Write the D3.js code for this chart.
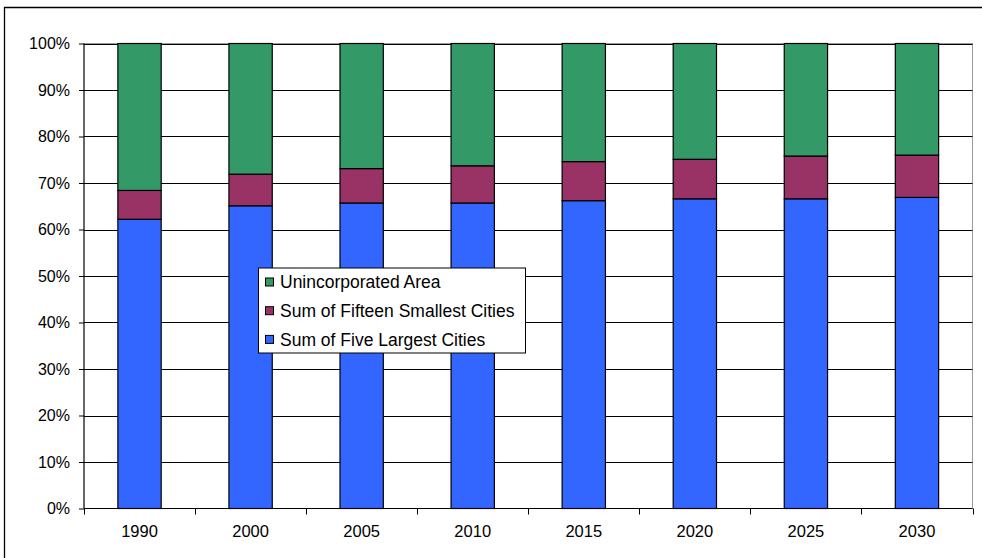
<!DOCTYPE html>
<html>
<head>
<meta charset="utf-8">
<script src="https://cdn.jsdelivr.net/npm/d3@7"></script>
<style>
  html, body { margin: 0; padding: 0; background: #fff; }
  svg { display: block; font-family: "Liberation Sans", Arial, sans-serif; }
</style>
</head>
<body>
<svg id="chart" width="982" height="558"></svg>
<script>
// Population share by year (percent of county total)
const years = ["1990", "2000", "2005", "2010", "2015", "2020", "2025", "2030"];
const fiveLargest = [62.2, 65.1, 65.7, 65.7, 66.2, 66.6, 66.6, 66.9];
const fifteenSmallest = [6.2, 6.8, 7.4, 8.0, 8.4, 8.5, 9.2, 9.1];
const unincorporated = [31.6, 28.1, 26.9, 26.3, 25.4, 24.9, 24.2, 24.0];
const yTicks = [0, 10, 20, 30, 40, 50, 60, 70, 80, 90, 100];

const seriesNames = ["Sum of Five Largest Cities", "Sum of Fifteen Smallest Cities", "Unincorporated Area"];
const seriesColors = ["#3366FF", "#993366", "#339966"];

const rows = years.map((y, i) => ({
  year: y,
  [seriesNames[0]]: fiveLargest[i],
  [seriesNames[1]]: fifteenSmallest[i],
  [seriesNames[2]]: unincorporated[i]
}));

const svg = d3.select("#chart");
const W = 982, H = 558;
const plot = { left: 84, right: 972.5, top: 43.5, bottom: 508.5 };

// Outer chart frame
svg.append("path")
  .attr("d", `M4.5,${H + 2} V7.5 H${W + 2}`)
  .attr("fill", "none").attr("stroke", "#000").attr("stroke-width", 1.3);

const x = d3.scaleBand().domain(years).range([plot.left, plot.right]).paddingInner(0.61).paddingOuter(0.305);
const y = d3.scaleLinear().domain([0, 100]).range([plot.bottom, plot.top]);

// Plot area border
svg.append("rect")
  .attr("x", plot.left).attr("y", plot.top)
  .attr("width", plot.right - plot.left).attr("height", plot.bottom - plot.top)
  .attr("fill", "#fff").attr("stroke", "#9a9a9a").attr("stroke-width", 1);

// Horizontal gridlines
svg.append("g").selectAll("line").data(yTicks.filter(t => t > 0)).join("line")
  .attr("x1", plot.left).attr("x2", plot.right)
  .attr("y1", d => Math.round(y(d)) + 0.5).attr("y2", d => Math.round(y(d)) + 0.5)
  .attr("stroke", "#000").attr("stroke-width", 1);

// Stacked bars
const stack = d3.stack().keys(seriesNames)(rows);
svg.append("g").selectAll("g").data(stack).join("g")
  .attr("fill", (d, i) => seriesColors[i])
  .selectAll("rect").data(d => d).join("rect")
  .attr("x", d => x(d.data.year))
  .attr("width", x.bandwidth())
  .attr("y", d => y(d[1]))
  .attr("height", d => y(d[0]) - y(d[1]))
  .attr("stroke", "#000").attr("stroke-width", 1.2);

// Y axis
const yAxis = d3.axisLeft(y).tickValues(yTicks).tickFormat(d => d + "%").tickSize(5).tickPadding(9);
const gy = svg.append("g").attr("transform", `translate(${plot.left},0)`).call(yAxis);
gy.select(".domain").attr("d", `M0,${plot.top}V${plot.bottom}`).attr("stroke", "#000");
gy.selectAll(".tick line").attr("stroke", "#000");
gy.selectAll("text").attr("font-size", 16).attr("fill", "#000")
  .attr("font-family", "'Liberation Sans', Arial, sans-serif");

// X axis: ticks on category boundaries
const gx = svg.append("g").attr("transform", `translate(0,${plot.bottom})`);
gx.append("line").attr("x1", plot.left).attr("x2", plot.right).attr("y1", 0).attr("y2", 0).attr("stroke", "#000");
const step = x.step();
const boundaries = d3.range(years.length + 1).map(i => plot.left + i * step);
gx.selectAll("line.tick").data(boundaries).join("line").attr("class", "tick")
  .attr("x1", d => Math.round(d) + 0.5).attr("x2", d => Math.round(d) + 0.5)
  .attr("y1", 0).attr("y2", 6).attr("stroke", "#000");
gx.selectAll("text").data(years).join("text")
  .attr("x", d => x(d) + x.bandwidth() / 2)
  .attr("y", 28.5)
  .attr("text-anchor", "middle")
  .attr("font-size", 16.5)
  .text(d => d);

// Legend
const legend = svg.append("g").attr("transform", "translate(258,267.5)");
legend.append("rect").attr("x", 0.5).attr("y", 0.5).attr("width", 267).attr("height", 85)
  .attr("fill", "#fff").attr("stroke", "#000").attr("stroke-width", 1);
const legendOrder = [2, 1, 0];
const item = legend.selectAll("g.item").data(legendOrder).join("g").attr("class", "item")
  .attr("transform", (d, i) => `translate(0,${14.5 + i * 28.7})`);
item.append("rect").attr("x", 7.5).attr("y", -4).attr("width", 8).attr("height", 8)
  .attr("fill", d => seriesColors[d]).attr("stroke", "#000").attr("stroke-width", 1);
item.append("text").attr("x", 22).attr("y", 0).attr("dy", "0.36em")
  .attr("font-size", 17.5).text(d => seriesNames[d]);
</script>
</body>
</html>
